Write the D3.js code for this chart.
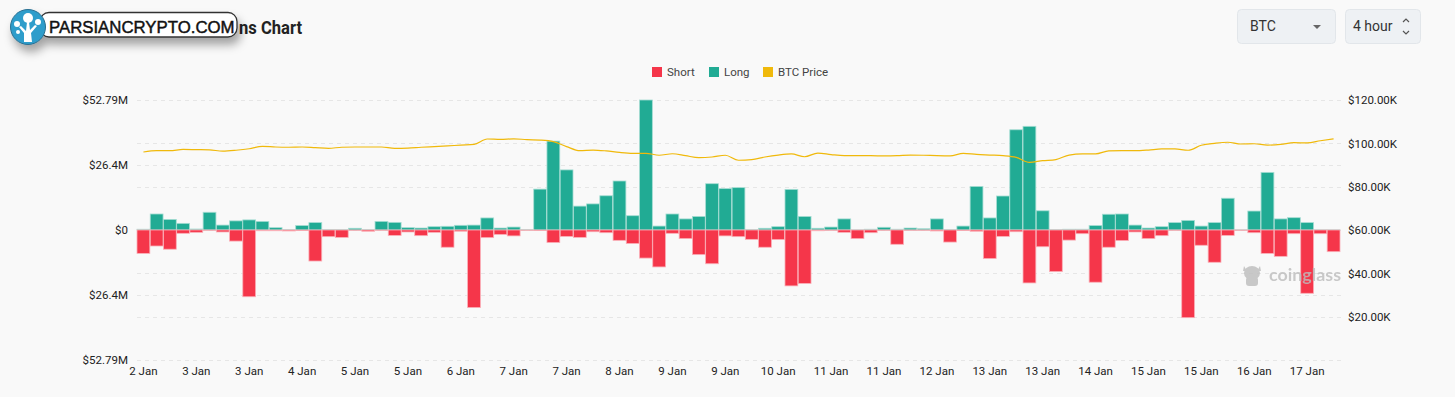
<!DOCTYPE html>
<html>
<head>
<meta charset="utf-8">
<script src="https://cdn.jsdelivr.net/npm/d3@7"></script>
<style>
  html, body { margin: 0; padding: 0; background: #f9f9f9; }
  svg { display: block; font-family: Roboto, "Noto Sans", sans-serif; }
</style>
</head>
<body>
<div class="chart"></div>
<script>
// chart size
var svgWidth = 1455;
var svgHeight = 397;
var margin = {top: 100, right: 115, bottom: 37, left: 137};
var chartWidth = svgWidth - margin.left - margin.right;
var chartHeight = svgHeight - margin.top - margin.bottom;

// tick labels on the x axis, one every 4 bars (4 hour bars)
var xLabels = ["2 Jan", "3 Jan", "3 Jan", "4 Jan", "5 Jan", "5 Jan", "6 Jan", "7 Jan",
  "7 Jan", "8 Jan", "9 Jan", "9 Jan", "10 Jan", "11 Jan", "11 Jan", "12 Jan",
  "13 Jan", "13 Jan", "14 Jan", "15 Jan", "15 Jan", "16 Jan", "17 Jan"];

// long liquidations, $M
var longs = [0.3, 6.5, 4.3, 2.7, 0.4, 7.2, 2.0, 3.7, 4.1, 3.5,
  0.95, 0.1, 1.8, 3.0, 0.1, 0.1, 0.7, 0.1, 3.5, 3.1,
  0.95, 0.8, 1.35, 1.5, 1.9, 2.0, 4.9, 0.8, 1.2, 0.1,
  16.6, 36.1, 24.4, 9.7, 10.6, 13.9, 19.9, 5.8, 52.79, 1.6,
  6.5, 4.5, 5.5, 18.8, 16.8, 17.2, 0.1, 0.7, 1.35, 16.5,
  5.5, 0.7, 1.2, 4.5, 0.05, 0.3, 1.1, 0.3, 0.8, 0.5,
  4.5, 0.1, 1.6, 17.7, 4.9, 13.8, 40.7, 42.1, 7.8, 0.1,
  0.3, 0.3, 1.8, 6.4, 6.5, 2.0, 0.8, 1.35, 3.0, 3.9,
  1.6, 3.0, 12.9, 0.05, 7.7, 23.4, 4.5, 5.0, 3.0, 0.05, 0.05];

// short liquidations, $M (drawn below zero)
var shorts = [9.5, 6.5, 7.8, 1.35, 0.95, 0.1, 0.8, 4.5, 27.1, 0.3,
  0.3, 0.4, 0.2, 12.6, 2.7, 3.0, 0.1, 0.5, 0.1, 2.2,
  0.8, 2.3, 0.95, 7.0, 0.5, 31.5, 3.1, 1.8, 2.4, 0.1,
  0.2, 5.1, 2.6, 3.0, 0.7, 1.1, 4.2, 5.5, 11.4, 15.0,
  1.35, 3.5, 10.0, 13.7, 2.4, 2.7, 3.8, 7.0, 3.9, 22.7,
  21.7, 0.3, 0.1, 0.95, 3.5, 1.1, 0.1, 5.8, 0.1, 0.1,
  0.4, 4.9, 0.2, 0.5, 11.6, 2.6, 0.7, 21.5, 6.8, 16.9,
  4.1, 1.5, 21.2, 7.0, 4.3, 0.8, 3.5, 2.3, 0.1, 35.6,
  6.2, 13.1, 2.2, 0.1, 1.1, 9.5, 10.7, 1.5, 25.7, 1.5, 8.8];

// BTC price, $K
var prices = [96.0, 96.6, 96.6, 97.2, 97.1, 97.0, 96.4, 96.8, 97.5, 98.6,
  98.3, 98.2, 98.3, 98.0, 97.7, 98.2, 98.3, 98.3, 98.3, 97.7,
  97.8, 98.2, 98.5, 98.8, 99.2, 99.5, 102.0, 101.8, 102.1, 101.7,
  101.5, 100.8, 98.5, 96.6, 96.9, 96.5, 95.8, 95.4, 95.4, 94.5,
  95.2, 94.3, 93.4, 93.7, 94.5, 92.2, 92.5, 93.7, 94.6, 95.1,
  93.8, 95.5, 94.8, 94.3, 94.3, 94.3, 94.2, 94.3, 94.6, 94.5,
  94.3, 94.2, 95.4, 94.9, 94.6, 94.3, 93.5, 91.2, 92.0, 92.5,
  94.6, 95.1, 95.1, 96.5, 96.6, 96.6, 96.9, 97.4, 97.4, 96.8,
  99.1, 100.0, 100.5, 99.7, 99.8, 99.2, 99.5, 100.3, 100.2, 101.2, 102.1];

var leftTicks = [-52.79, -26.4, 0, 26.4, 52.79];
var rightTicks = [0, 20, 40, 60, 80, 100, 120];

var colors = {short: "#f5364a", long: "#21ab94", price: "#f0b90b"};

var svg = d3.select(".chart").append("svg")
  .attr("width", svgWidth)
  .attr("height", svgHeight);

svg.append("rect").attr("width", svgWidth).attr("height", svgHeight).attr("fill", "#f9f9f9");

var chart = svg.append("g")
  .attr("transform", "translate(" + margin.left + "," + margin.top + ")");

// scales
var xScale = d3.scaleBand().domain(d3.range(longs.length)).range([0, chartWidth]).paddingInner(0.03);
var yLeft = d3.scaleLinear().domain([-52.79, 52.79]).range([chartHeight, 0]);
var yRight = d3.scaleLinear().domain([0, 120]).range([chartHeight, 0]);

// grid lines for both axes
var grid = chart.append("g");
leftTicks.concat(rightTicks.map(function(t) { return yLeft.invert(yRight(t)); })).forEach(function(t) {
  var y = Math.round(yLeft(t)) + 0.5;
  grid.append("line").attr("x1", 0).attr("x2", chartWidth + 3).attr("y1", y).attr("y2", y);
});
grid.selectAll("line").attr("stroke", "#e6e6e6").attr("stroke-dasharray", "4,4");

// axes
var fmtM = function(d) { return d === 0 ? "$0" : "$" + Math.abs(d) + "M"; };
var leftAxis = d3.axisLeft(yLeft).tickValues(leftTicks).tickFormat(fmtM).tickSize(0).tickPadding(9);
var rightAxis = d3.axisRight(yRight).tickValues(rightTicks.filter(function(d) { return d > 0; }))
  .tickFormat(function(d) { return "$" + d.toFixed(2) + "K"; }).tickSize(0).tickPadding(8);
var bottomAxis = d3.axisBottom(xScale)
  .tickValues(d3.range(0, longs.length, 4))
  .tickFormat(function(d) { return xLabels[d / 4]; }).tickSize(0).tickPadding(7);

var gl = chart.append("g").call(leftAxis);
var gr = chart.append("g").attr("transform", "translate(" + chartWidth + ",0)").call(rightAxis);
var gb = chart.append("g").attr("transform", "translate(0," + chartHeight + ")").call(bottomAxis);
[gl, gr, gb].forEach(function(g) {
  g.select(".domain").remove();
  g.selectAll("text").attr("fill", "#222").style("font-size", "11.5px").style("font-family", "Roboto, sans-serif");
});

// long bars
chart.append("g").selectAll("rect").data(longs).join("rect")
  .attr("x", function(d, i) { return xScale(i); })
  .attr("y", function(d) { return yLeft(d); })
  .attr("width", xScale.bandwidth())
  .attr("height", function(d) { return yLeft(0) - yLeft(d); })
  .attr("fill", colors.long)
  .attr("stroke", "#a6ddd3").attr("stroke-width", 0.8);

// short bars
chart.append("g").selectAll("rect").data(shorts).join("rect")
  .attr("x", function(d, i) { return xScale(i); })
  .attr("y", yLeft(0))
  .attr("width", xScale.bandwidth())
  .attr("height", function(d) { return yLeft(-d) - yLeft(0); })
  .attr("fill", colors.short)
  .attr("stroke", "#fab0b8").attr("stroke-width", 0.8);

// price line
var line = d3.line()
  .x(function(d, i) { return xScale(i) + xScale.bandwidth() / 2; })
  .y(function(d) { return yRight(d); })
  .curve(d3.curveMonotoneX);
chart.append("path").datum(prices)
  .attr("d", line)
  .attr("fill", "none")
  .attr("stroke", colors.price)
  .attr("stroke-width", 1.2);

// coinglass watermark, above the bars
var wm = chart.append("g").attr("transform", "translate(" + (1243 - margin.left) + "," + (275 - margin.top) + ")")
  .attr("fill", "#bdbdbd").attr("opacity", 0.8);
wm.append("ellipse").attr("cx", 9).attr("cy", -2).attr("rx", 8).attr("ry", 7);
wm.append("rect").attr("x", 3).attr("y", 2).attr("width", 12).attr("height", 9).attr("rx", 3);
wm.append("path").attr("d", "M1,-9 L4,-4 L0,-4 Z M17,-9 L14,-4 L18,-4 Z");
wm.append("text").attr("x", 26).attr("y", 6).text("coinglass")
  .attr("textLength", 72).attr("lengthAdjust", "spacingAndGlyphs")
  .style("font-size", "17px").style("font-weight", "700").style("font-family", "Lato, sans-serif");

// legend
var legendItems = [["Short", colors.short, 652], ["Long", colors.long, 709], ["BTC Price", colors.price, 763]];
var legend = svg.append("g");
legendItems.forEach(function(it) {
  legend.append("rect").attr("x", it[2]).attr("y", 67).attr("width", 10).attr("height", 10).attr("fill", it[1]);
  legend.append("text").attr("x", it[2] + 15).attr("y", 76).text(it[0])
    .attr("fill", "#444").style("font-size", "11.5px");
});

// title: only its end shows from under the badge
svg.append("text").attr("x", 239).attr("y", 34)
  .text("ns Chart")
  .attr("textLength", 63).attr("lengthAdjust", "spacingAndGlyphs")
  .attr("fill", "#222").style("font-size", "18px").style("font-weight", "700");

// dropdowns
var dd = svg.append("g");
dd.append("rect").attr("x", 1237.5).attr("y", 9.5).attr("width", 98).attr("height", 34).attr("rx", 4)
  .attr("fill", "#eef1f4").attr("stroke", "#e2e6ea");
dd.append("text").attr("x", 1250).attr("y", 31).text("BTC").attr("fill", "#333").style("font-size", "14px");
dd.append("path").attr("d", "M1313,25 L1321,25 L1317,29 Z").attr("fill", "#666");
dd.append("rect").attr("x", 1345.5).attr("y", 9.5).attr("width", 75).attr("height", 34).attr("rx", 4)
  .attr("fill", "#eef1f4").attr("stroke", "#e2e6ea");
dd.append("text").attr("x", 1353).attr("y", 31).text("4 hour").attr("fill", "#333").style("font-size", "14px");
dd.append("path").attr("d", "M1403,22 L1406,19 L1409,22 M1403,31 L1406,34 L1409,31")
  .attr("fill", "none").attr("stroke", "#555").attr("stroke-width", 1.2);

// badge overlay
var defs = svg.append("defs");
var f = defs.append("filter").attr("id", "shadow").attr("x", "-20%").attr("y", "-50%").attr("width", "140%").attr("height", "260%");
f.append("feDropShadow").attr("dx", 3).attr("dy", 7).attr("stdDeviation", 5).attr("flood-color", "#000").attr("flood-opacity", 0.35);
var badge = svg.append("g").attr("filter", "url(#shadow)");
badge.append("rect").attr("x", 40).attr("y", 12.5).attr("width", 197).attr("height", 24.5).attr("rx", 9)
  .attr("fill", "#fff").attr("stroke", "#333").attr("stroke-width", 1.3);
badge.append("circle").attr("cx", 28).attr("cy", 27).attr("r", 17.5).attr("fill", "#2f9dcb").attr("stroke", "#2a6f90").attr("stroke-width", 1);
var icon = svg.append("g").attr("fill", "#fff");
icon.append("path").attr("d", "M24,42 L24,33 L19,27 L21,26 L26,31 L27,22 L29,22 L30,30 L35,25 L37,26 L31,33 L32,42 Z");
icon.append("circle").attr("cx", 28).attr("cy", 18).attr("r", 5);
icon.append("circle").attr("cx", 38).attr("cy", 22).attr("r", 3);
icon.append("circle").attr("cx", 17).attr("cy", 24).attr("r", 3);
icon.append("circle").attr("cx", 18).attr("cy", 32).attr("r", 2);
svg.append("text").attr("x", 49).attr("y", 32.5).text("PARSIANCRYPTO.COM")
  .attr("fill", "#111").attr("stroke", "#111").attr("stroke-width", 0.45)
  .style("font-size", "16.8px")
  .style("font-family", "'Liberation Sans', Arial, sans-serif");
</script>
</body>
</html>
